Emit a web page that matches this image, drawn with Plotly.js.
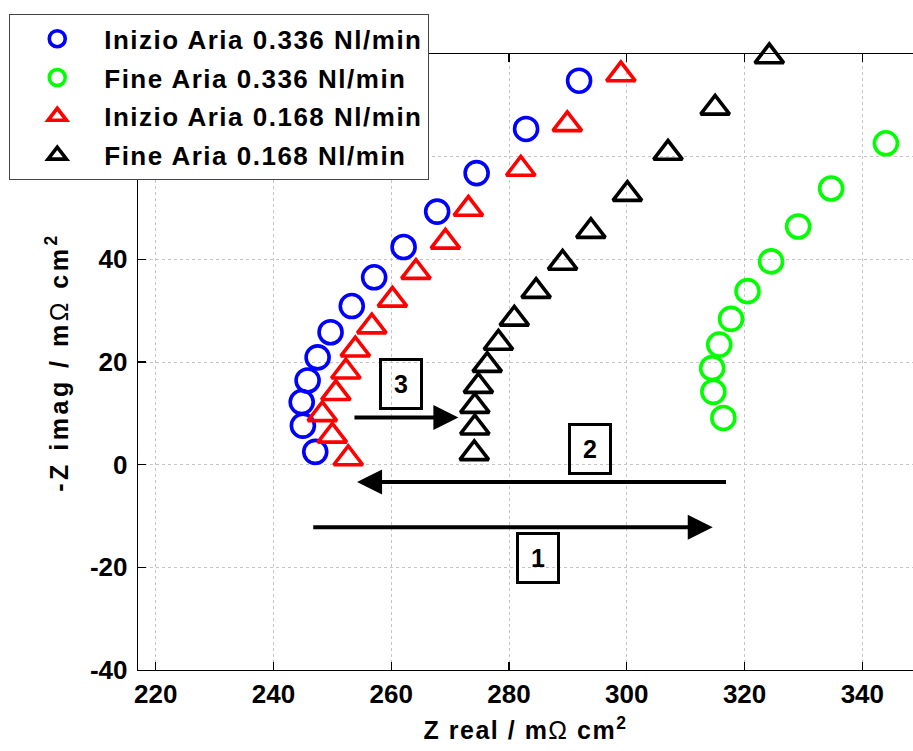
<!DOCTYPE html>
<html>
<head>
<meta charset="utf-8">
<script src="https://cdn.plot.ly/plotly-3.0.1.min.js"></script>
<style>html,body{margin:0;padding:0;overflow:hidden;background:#fff}</style>
</head>
<body>
<div id="chart" style="width:913px;height:751px"></div>
<script>
// Series names (legend)
const seriesNames = [
  'Inizio Aria 0.336 Nl/min',
  'Fine Aria 0.336 Nl/min',
  'Inizio Aria 0.168 Nl/min',
  'Fine Aria 0.168 Nl/min'
];

// Inizio Aria 0.336 Nl/min (blue circles)
const blueX = [291.9, 282.9, 274.5, 267.8, 262.1, 257.1, 253.3, 249.7, 247.5, 245.8, 244.8, 245.0, 247.1];
const blueY = [74.8, 65.4, 56.8, 49.3, 42.4, 36.5, 30.9, 25.8, 20.9, 16.4, 12.2, 7.6, 2.5];

// Fine Aria 0.336 Nl/min (green circles)
const greenX = [344.0, 334.7, 329.1, 324.5, 320.5, 317.7, 315.7, 314.5, 314.7, 316.4];
const greenY = [62.6, 53.8, 46.4, 39.6, 33.8, 28.4, 23.4, 18.8, 14.2, 9.1];

// Inizio Aria 0.168 Nl/min (red triangles)
const redX = [299.0, 289.9, 282.0, 273.1, 269.2, 264.2, 260.2, 256.7, 253.9, 252.3, 250.6, 248.3, 250.0, 252.7];
const redY = [76.0, 66.3, 57.6, 49.8, 43.4, 37.5, 32.1, 26.9, 22.4, 18.1, 13.9, 9.8, 5.6, 1.2];

// Fine Aria 0.168 Nl/min (black triangles)
const blackX = [324.2, 315.0, 307.0, 300.1, 293.9, 289.1, 284.6, 280.9, 278.2, 276.3, 274.8, 274.2, 274.2, 274.1];
const blackY = [79.5, 69.5, 60.7, 52.7, 45.5, 39.3, 33.8, 28.4, 23.7, 19.4, 15.3, 11.4, 7.2, 2.2];

// Axis ticks (60 and 80 sit behind the legend in the reference)
const xTicks = [220, 240, 260, 280, 300, 320, 340];
const yTicks = [-40, -20, 0, 20, 40, 60, 80];
const yTickText = ['-40', '-20', '0', '20', '40', '', ''];

// Step labels
const stepLabels = ['1', '2', '3'];

const FONT = 'Liberation Sans, Arial, Helvetica, sans-serif';
const spaced = (t, px) => '<span style="letter-spacing:' + px + 'px">' + t + '</span>';

function mk(x, y, name, symbol, color, grp) {
  const isCircle = symbol.indexOf('circle') === 0;
  return {
    type: 'scatter', mode: 'markers', x: x, y: y,
    name: spaced(name, 1.5),
    legendgroup: grp,
    cliponaxis: false,
    marker: {symbol: symbol, size: isCircle ? 23 : 25,
             color: color, line: {color: color, width: 3.6}}
  };
}

const traces = [
  mk(blueX, blueY, seriesNames[0], 'circle-open', '#0000FF', 'a'),
  mk(greenX, greenY, seriesNames[1], 'circle-open', '#00FF00', 'b'),
  mk(redX, redY, seriesNames[2], 'triangle-up-open', '#FF0000', 'c'),
  mk(blackX, blackY, seriesNames[3], 'triangle-up-open', '#000000', 'd')
];

function arrow(x0, x1, y) {
  return {x: x1, y: y, ax: x0, ay: y, xref: 'x', yref: 'y', axref: 'x', ayref: 'y',
          text: '', showarrow: true, arrowhead: 2, arrowsize: 1.25, arrowwidth: 4,
          arrowcolor: '#000', standoff: 0, startstandoff: 0};
}
function box(x, y, t) {
  return {x: x, y: y, xref: 'x', yref: 'y', text: t, showarrow: false,
          font: {family: FONT, size: 25, color: '#000', weight: 'bold'},
          bordercolor: '#000', borderwidth: 3, borderpad: 0, width: 38, height: 46,
          bgcolor: 'rgba(0,0,0,0)', xanchor: 'center', yanchor: 'middle'};
}

const layout = {
  width: 913, height: 751,
  margin: {l: 138, r: 0, t: 54, b: 81},
  paper_bgcolor: '#fff', plot_bgcolor: '#fff',
  showlegend: true,
  font: {family: FONT, color: '#000'},
  xaxis: {
    range: [217, 348.6], tickvals: xTicks, ticktext: xTicks.map(String),
    showgrid: true, gridcolor: '#c4c4c4', griddash: 'dot', gridwidth: 1,
    zeroline: false, showline: true, linecolor: '#000', linewidth: 1.3,
    mirror: 'ticks', ticks: 'inside', ticklen: 8, tickcolor: '#000', tickwidth: 1.3,
    tickfont: {family: FONT, size: 26, color: '#000', weight: 'bold'},
    ticklabelstandoff: 0,
    title: {text: spaced('Z real / m<span style="font-weight:normal">Ω</span> cm<sup>2</sup>', 1.5),
            font: {family: FONT, size: 25, color: '#000', weight: 'bold'}, standoff: 14}
  },
  yaxis: {
    range: [-40, 80], tickvals: yTicks, ticktext: yTickText,
    showgrid: true, gridcolor: '#c4c4c4', griddash: 'dot', gridwidth: 1,
    zeroline: false, showline: true, linecolor: '#000', linewidth: 1.3,
    mirror: false, ticks: 'inside', ticklen: 8, tickcolor: '#000', tickwidth: 1.3,
    tickfont: {family: FONT, size: 26, color: '#000', weight: 'bold'},
    ticklabelstandoff: 4,
    title: {text: spaced('-Z imag / m<span style="font-weight:normal">Ω</span> cm<sup>2</sup>', 3.5),
            font: {family: FONT, size: 25, color: '#000', weight: 'bold'}, standoff: 14}
  },
  legend: {
    x: -0.1665, y: 1.0649, xanchor: 'left', yanchor: 'top',
    bgcolor: '#fff', bordercolor: '#444', borderwidth: 1.3,
    font: {family: FONT, size: 26, color: '#000', weight: 'bold'},
    itemwidth: 84, tracegroupgap: 2, traceorder: 'grouped'
  },
  annotations: [
    arrow(246.5, 314.6, -12.2),
    arrow(317.1, 254.2, -3.4),
    arrow(253.5, 271.4, 9.2),
    box(284.9, -18.2, stepLabels[0]),
    box(293.7, 2.96, stepLabels[1]),
    box(261.7, 15.7, stepLabels[2])
  ]
};

Plotly.newPlot('chart', traces, layout, {displayModeBar: false, staticPlot: true});
</script>
</body>
</html>
